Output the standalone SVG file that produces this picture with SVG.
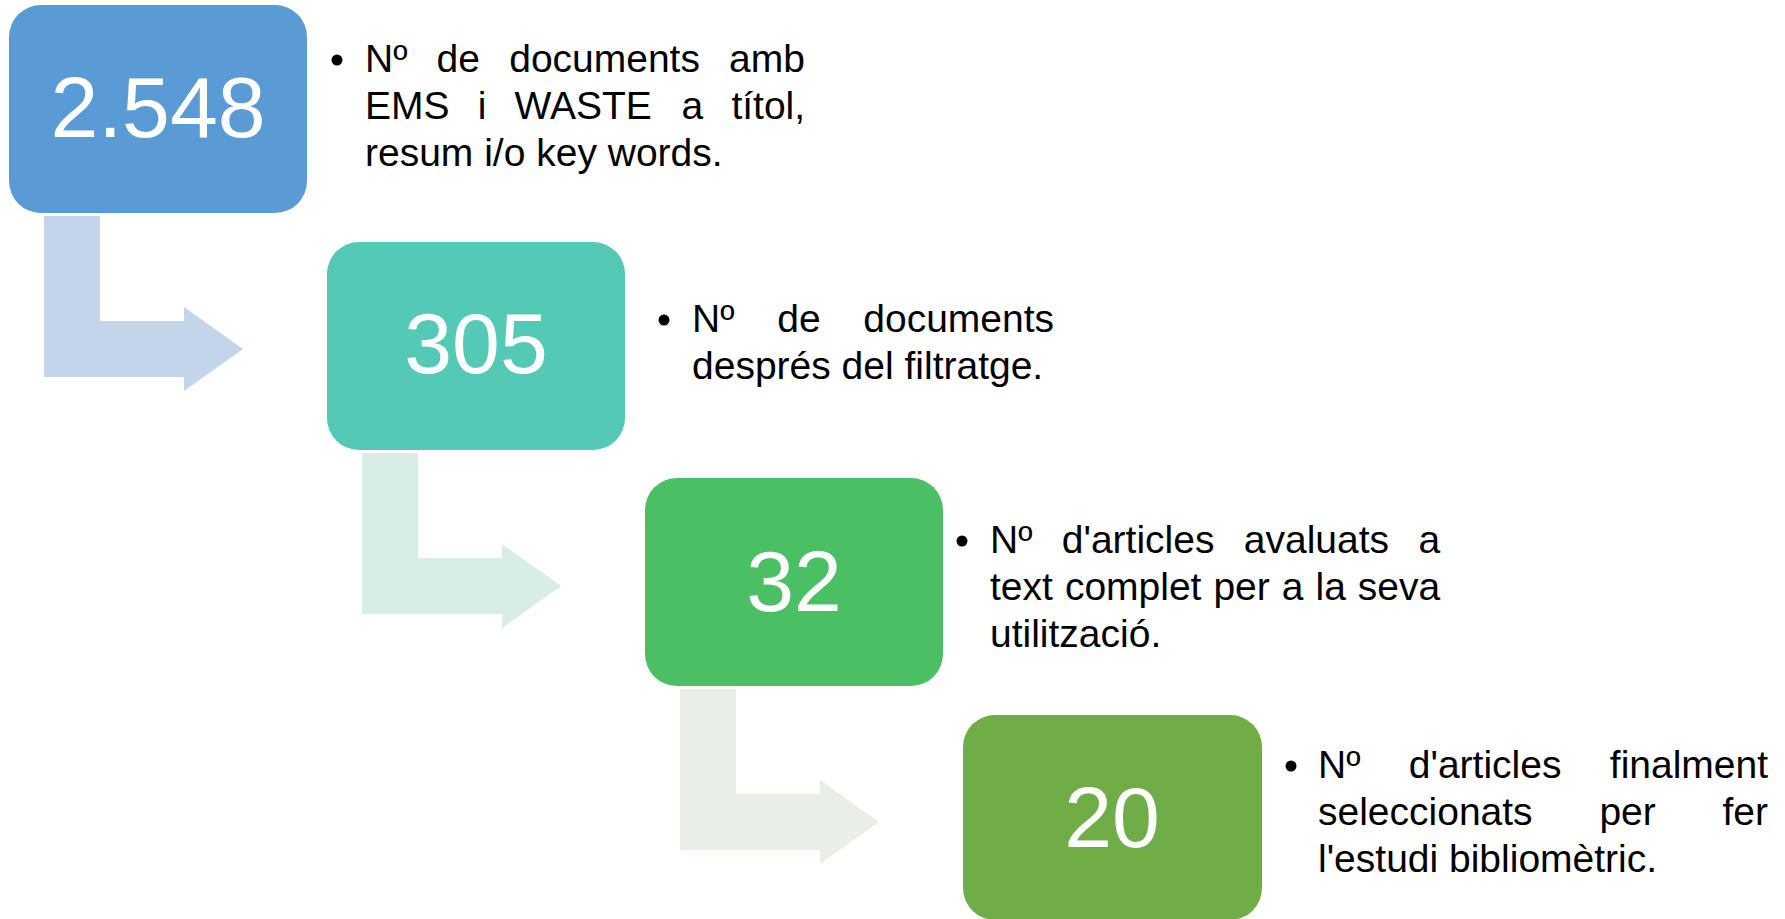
<svg xmlns="http://www.w3.org/2000/svg" width="1785" height="919" viewBox="0 0 1785 919">
<style>
.num{font-family:"Liberation Sans",Arial,sans-serif;font-size:86px;fill:#ffffff;text-anchor:middle}
.txt{font-family:"Liberation Sans",Arial,sans-serif;font-size:39px;fill:#000000}
.bul{fill:#000000}
</style>
<rect width="1785" height="919" fill="#ffffff"/>
<g id="connectors">
<path d="M44,216 H100 V321 H184 V307 L243,349 L184,391 V377 H44 Z" fill="#C4D5EB"/>
<path d="M362,453 H418 V558 H502 V544 L561,586 L502,628 V614 H362 Z" fill="#D7EDE5"/>
<path d="M680,689 H736 V794 H820 V780 L879,822 L820,864 V850 H680 Z" fill="#E9EFE7"/>
</g>
<g id="node1">
<rect x="9" y="5" width="298" height="208" rx="32" ry="32" fill="#5B9BD5"/>
<text class="num" x="158" y="137">2.548</text>
<circle class="bul" cx="337" cy="60" r="5.5"/>
<text class="txt" y="72"><tspan x="365">Nº</tspan><tspan x="436.6">de</tspan><tspan x="509.2">documents</tspan><tspan x="729.1">amb</tspan></text>
<text class="txt" y="119"><tspan x="365">EMS</tspan><tspan x="477.7">i</tspan><tspan x="514.6">WASTE</tspan><tspan x="681.5">a</tspan><tspan x="731.4">títol,</tspan></text>
<text class="txt" x="365" y="166">resum i/o key words.</text>
</g>
<g id="node2">
<rect x="327" y="242" width="298" height="208" rx="32" ry="32" fill="#54C9B6"/>
<text class="num" x="476" y="373">305</text>
<circle class="bul" cx="664" cy="320" r="5.5"/>
<text class="txt" y="332"><tspan x="692">Nº</tspan><tspan x="777.2">de</tspan><tspan x="863.3">documents</tspan></text>
<text class="txt" x="692" y="379">després del filtratge.</text>
</g>
<g id="node3">
<rect x="645" y="478" width="298" height="208" rx="32" ry="32" fill="#4ABF64"/>
<text class="num" x="794" y="611">32</text>
<circle class="bul" cx="962" cy="541" r="5.5"/>
<text class="txt" y="553"><tspan x="990">Nº</tspan><tspan x="1061.8">d'articles</tspan><tspan x="1243.8">avaluats</tspan><tspan x="1418.4">a</tspan></text>
<text class="txt" y="600"><tspan x="990">text</tspan><tspan x="1064.9">complet</tspan><tspan x="1213.4">per</tspan><tspan x="1281.8">a</tspan><tspan x="1315.5">la</tspan><tspan x="1357.8">seva</tspan></text>
<text class="txt" x="990" y="647">utilització.</text>
</g>
<g id="node4">
<rect x="963" y="715" width="299" height="205" rx="32" ry="32" fill="#70AD47"/>
<text class="num" x="1112" y="847">20</text>
<circle class="bul" cx="1291" cy="766" r="5.5"/>
<text class="txt" y="778"><tspan x="1318">Nº</tspan><tspan x="1408.8">d'articles</tspan><tspan x="1609.8">finalment</tspan></text>
<text class="txt" y="825"><tspan x="1318">seleccionats</tspan><tspan x="1599.4">per</tspan><tspan x="1722.5">fer</tspan></text>
<text class="txt" x="1318" y="872">l'estudi bibliomètric.</text>
</g>
</svg>
